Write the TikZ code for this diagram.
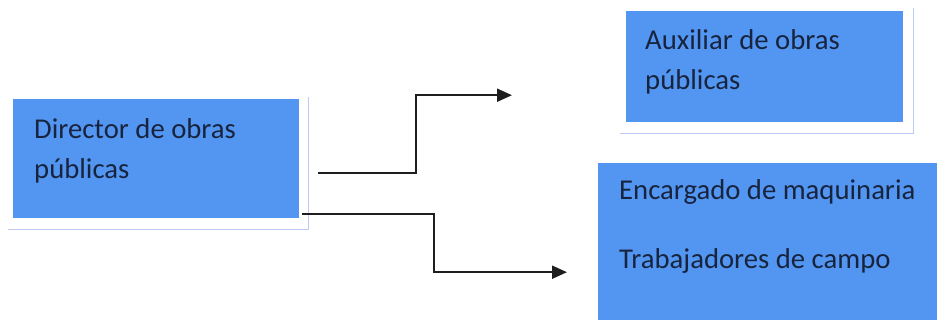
\documentclass[tikz,border=0pt]{standalone}
\usepackage{fontspec}
\setmainfont{Carlito}
\usetikzlibrary{arrows.meta}
\definecolor{boxblue}{RGB}{82,150,242}
\definecolor{textnavy}{RGB}{24,36,62}
\definecolor{linegray}{RGB}{30,30,30}
\definecolor{frameblue}{RGB}{190,200,240}

\begin{document}
\begin{tikzpicture}[x=1pt, y=-1pt,
    box/.style={rectangle, fill=boxblue, draw=none, inner sep=0pt, anchor=north west},
    boxtext/.style={anchor=north west, inner sep=0pt, align=left, text=textnavy,
      font=\fontsize{28.7}{40}\selectfont},
    link/.style={draw=linegray, line width=2pt, -{Triangle[length=15pt, width=13pt]}},
    frame/.style={draw=frameblue, line width=1pt}]
    \useasboundingbox (0,0) rectangle (937,328);
    % boxes
    \node[box, minimum width=286pt, minimum height=119pt] at (13,99) (dir) {};
    \node[box, minimum width=277pt, minimum height=111pt] at (626,11) (aux) {};
    \node[box, minimum width=342pt, minimum height=157pt] at (598,163) (enc) {};
    % box frames
    \draw[frame] ([xshift=9pt, yshift=2pt]dir.north east) |- ([xshift=-5pt, yshift=-11pt]dir.south west);
    \draw[frame] ([xshift=10pt, yshift=3pt]aux.north east) |- ([xshift=-6pt, yshift=-11pt]aux.south west);
    % box texts
    \node[boxtext] at ([xshift=21pt, yshift=-19pt]dir.north west) (dirtext) {Director de obras\\públicas};
    \node[boxtext] at ([xshift=19pt, yshift=-18pt]aux.north west) (auxtext) {Auxiliar de obras\\públicas};
    \node[boxtext] at ([xshift=21pt, yshift=-16pt]enc.north west) (enctext) {Encargado de maquinaria\\[29pt]Trabajadores de campo};

    % connections
    \draw[link, shorten <=19pt, shorten >=114pt] ([yshift=-14.5pt]dir.east) -- ++(117,0) |- ([yshift=-28.5pt]aux.west);
    \draw[link, shorten >=31pt] ([xshift=3pt, yshift=4pt]dir.south east) -- ++(132,0) |- ([yshift=-30.5pt]enc.west);
\end{tikzpicture}
\end{document}
